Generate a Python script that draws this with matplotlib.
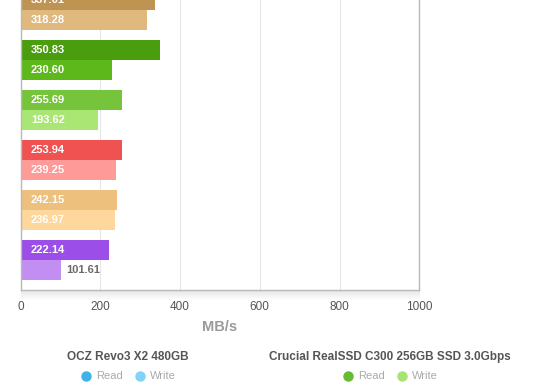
import matplotlib.pyplot as plt
from matplotlib.lines import Line2D
import numpy as np

plt.rcParams['font.family'] = ['Liberation Sans', 'DejaVu Sans']

# Values (MB/s), top group first
read_vals = [337.01, 350.83, 255.69, 253.94, 242.15, 222.14]
write_vals = [318.28, 230.60, 193.62, 239.25, 236.97, 101.61]
read_colors = ['#bf9452', '#4a9d0f', '#76c43b', '#ef5250', '#edc17d', '#9b4fe8']
write_colors = ['#dfb97e', '#5db81b', '#a9e674', '#fe9a98', '#fdd79b', '#c28ef2']

xticks = [0, 200, 400, 600, 800, 1000]
xlabel = 'MB/s'

legend_groups = [
    ('OCZ Revo3 X2 480GB', '#3fb1e9', '#80d4f8'),
    ('Crucial RealSSD C300 256GB SSD 3.0Gbps', '#66bb33', '#a6e474'),
]

W, H = 560, 390
fig = plt.figure(figsize=(W / 100, H / 100), dpi=100)
x0, x1, y_bot = 20.5, 419.3, 289.5
ax = fig.add_axes([x0 / W, (H - y_bot) / H, (x1 - x0) / W, y_bot / H])

idx = np.arange(len(read_vals))
bar_h = 0.4
ax.barh(idx - bar_h / 2, read_vals, height=bar_h, color=read_colors, zorder=2)
ax.barh(idx + bar_h / 2, write_vals, height=bar_h, color=write_colors, zorder=2)

ax.set_xlim(0, 1000)
ax.set_ylim(5.6, -0.2)

# value labels: inside the bar unless the bar is too short
px_per_unit = (x1 - x0) / 1000
for ys, vals in ((idx - bar_h / 2, read_vals), (idx + bar_h / 2, write_vals)):
    for y, v in zip(ys, vals):
        if v * px_per_unit > 60:
            ax.annotate(f'{v:.2f}', (0, y), xytext=(7.5, 0), textcoords='offset points',
                        color='white', fontsize=8, fontweight='bold', va='center', zorder=3)
        else:
            ax.annotate(f'{v:.2f}', (v, y), xytext=(3.5, 0), textcoords='offset points',
                        color='#6a6a6a', fontsize=8, fontweight='bold', va='center', zorder=3)

ax.set_xticks(xticks)
ax.set_yticks([])
ax.grid(axis='x', color='#e6e6e6', linewidth=0.8, zorder=0)
ax.tick_params(axis='x', length=0, pad=8, labelsize=8.5, labelcolor='#555555')
for s in ('left', 'right', 'bottom'):
    ax.spines[s].set_color('#b9b9b9')
    ax.spines[s].set_linewidth(1.0)
ax.spines['top'].set_visible(False)
ax.set_xlabel(xlabel, fontsize=10.5, fontweight='bold', color='#9a9a9a', labelpad=5)

# soft shadow under the plot area
shade = np.linspace(0.10, 0, 20).reshape(-1, 1)
sh_ax = fig.add_axes([x0 / W, (H - y_bot - 12) / H, (x1 - x0) / W, 11 / H], zorder=-1)
sh_ax.imshow(np.dstack([np.zeros_like(shade)] * 3 + [shade]), aspect='auto', extent=[0, 1, 0, 1])
sh_ax.axis('off')

centers = [128, 390]
for (title, c_read, c_write), cx in zip(legend_groups, centers):
    handles = [Line2D([], [], linestyle='none', marker='o', markersize=6.5, color=c_read),
               Line2D([], [], linestyle='none', marker='o', markersize=6.5, color=c_write)]
    leg = fig.legend(handles, ['Read', 'Write'], ncol=2, frameon=False, loc='upper center',
                     bbox_to_anchor=(cx / W, (H - 345) / H), title=title,
                     title_fontproperties={'weight': 'bold', 'size': 8.5},
                     fontsize=8, handletextpad=0.4, columnspacing=1.0, handlelength=1.0,
                     borderpad=0, labelspacing=0.8)
    leg.get_title().set_color('#555555')
    for t in leg.get_texts():
        t.set_color('#aaaaaa')

fig.savefig('out.png', dpi=100)
